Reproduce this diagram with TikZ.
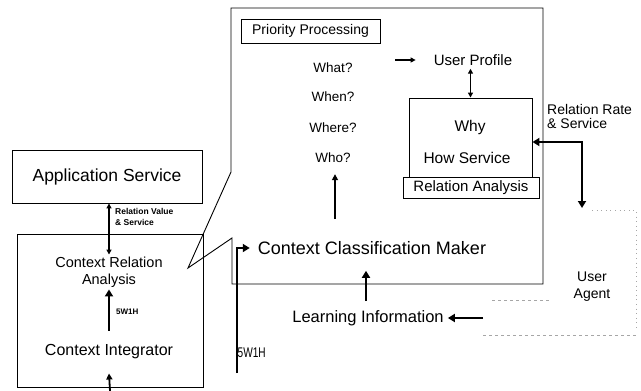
\documentclass[tikz,border=0pt]{standalone}
\usepackage{fontspec}
\setmainfont{Liberation Sans}
\newfontfamily\narrowfont[FakeStretch=0.72]{Liberation Sans}
\usetikzlibrary{arrows.meta}
\newcommand\fsz[2]{\fontsize{#1}{#2}\selectfont}
\begin{document}
\begin{tikzpicture}[x=1pt,y=-1pt,
  box/.style={draw, line width=0.9pt, inner sep=0pt},
  txt/.style={inner sep=1pt, align=center},
  bigarrow/.style={line width=2.8pt, -{Triangle[length=7pt,width=8pt]}},
  midarrow/.style={line width=1.8pt, -{Triangle[length=6pt,width=6pt]}},
  thinboth/.style={line width=1.2pt, {Triangle[length=5pt,width=5pt]}-{Triangle[length=5pt,width=5pt]}},
  thinarrow/.style={line width=1.2pt, -{Triangle[length=5pt,width=5pt]}},
  faint/.style={gray!70, line width=0.6pt},
]
\useasboundingbox (0,0) rectangle (641,391);

% callout frame
\coordinate (c1) at (231,8);
\coordinate (c2) at (543,8);
\coordinate (c3) at (543,284);
\coordinate (c4) at (232,284);
\coordinate (c5) at (232,238);
\coordinate (ctip) at (188,268);
\coordinate (c6) at (231,172);
\draw[line width=0.9pt] (c1) -- (c2) -- (c3) -- (c4) -- (c5) -- (ctip) -- (c6) -- cycle;

% left side
\node[box, minimum width=190pt, minimum height=53pt] (app) at (107,176.5) {};
\node[txt, font={\fsz{17.5}{20}}] (apptxt) at (app.center) {Application Service};
\node[box, minimum width=186pt, minimum height=153pt] (ctxbox) at (110,310.5) {};
\node[txt, inner ysep=2pt, font={\fsz{14.5}{17}}] (crel) at (109,272) {Context Relation\\Analysis};
\node[txt, inner ysep=14pt, font={\fsz{16}{19}}] (cint) at (109,352) {Context Integrator};
\coordinate (inb) at (110,391);

\draw[thinboth] (app.south -| crel.north) -- (crel.north);
\node[anchor=west, inner sep=0pt, align=left, font={\fsz{8.5}{11}\bfseries}] (rvs) at (115,217)
  {Relation Value\\\& Service};
\draw[bigarrow] (cint.north) -- (crel.south);
\node[anchor=west, inner sep=0pt, font={\fsz{8}{10}\bfseries}] (w5a) at (116,312) {5W1H};
\draw[midarrow] (inb) -- (cint.south);

% callout content
\node[draw, line width=0.7pt, minimum width=139pt, minimum height=24pt, inner sep=0pt, font={\fsz{14}{16}}] (prio) at (310.5,31) {Priority Processing};
\node[txt, font={\fsz{13.5}{16}}] (what) at (333,68) {What?};
\node[txt, font={\fsz{13.5}{16}}] (when) at (333,97) {When?};
\node[txt, font={\fsz{13.5}{16}}] (where) at (333,128) {Where?};
\node[txt, font={\fsz{13.5}{16}}] (who) at (333,158) {Who?};
\node[txt, inner sep=3pt, font={\fsz{15}{18}}] (up) at (473,60) {User Profile};
\coordinate (wa) at (395,60);
\draw[thinarrow, shorten >=15pt] (wa) -- (up.west);

\node[box, minimum width=123pt, minimum height=79pt] (whybox) at (470.5,137.5) {};
\node[txt, font={\fsz{15.5}{18}}] (why) at (470,127) {Why};
\node[txt, font={\fsz{15.5}{18}}] (how) at (467,158) {How Service};
\node[box, minimum width=136pt, minimum height=21pt, font={\fsz{15}{18}}] (ra) at (471,187.5) {Relation Analysis};
\draw[thinboth] (up.south -| whybox.north) -- (whybox.north);

\node[anchor=north west, inner sep=0pt, align=left, font={\fsz{14}{14}}] (rrs) at (547,104)
  {Relation Rate\\\& Service};

\node[txt, inner sep=3pt, font={\fsz{18}{21}}] (ccm) at (372,248) {Context Classification Maker};
\draw[midarrow, shorten >=10pt] (ccm.north -| 335,0) ++(0,-19) -- (who.south -| 335,0);

\node[txt, inner xsep=4pt, inner ysep=9pt, font={\fsz{16.5}{19}}] (li) at (368,318) {Learning Information};
\draw[bigarrow, shorten >=13pt] (li.north -| 366,0) -- (ccm.south -| 366,0);

\coordinate (s5) at (237,373);
\draw[bigarrow] (s5) -- (s5 |- ccm.west) -- ([xshift=-5pt]ccm.west);
\node[anchor=west, inner sep=0pt, font={\fsz{14}{16}\narrowfont}] (w5b) at (237.5,353) {5W1H};

% user agent
\node[txt, font={\fsz{14}{17}}] (ua) at (592,287) {User\\Agent};
\coordinate (rr) at (582,142);
\coordinate (uatop) at (582,208);
\draw[line width=2.8pt, {Triangle[length=7pt,width=8pt]}-{Triangle[length=7pt,width=8pt]}]
  (whybox.east |- rr) -- (rr) -- (uatop);
\coordinate (la) at (483,318);
\draw[bigarrow] (la) -- (li.east);

\draw[faint, dashed] (483,335) -- (636,335);
\draw[faint, dashed] (492,300) -- (550,300);
\draw[faint, loosely dotted] (636,212) -- (636,330);
\draw[faint, loosely dotted] (592,210) -- (636,210);
\end{tikzpicture}
\end{document}
